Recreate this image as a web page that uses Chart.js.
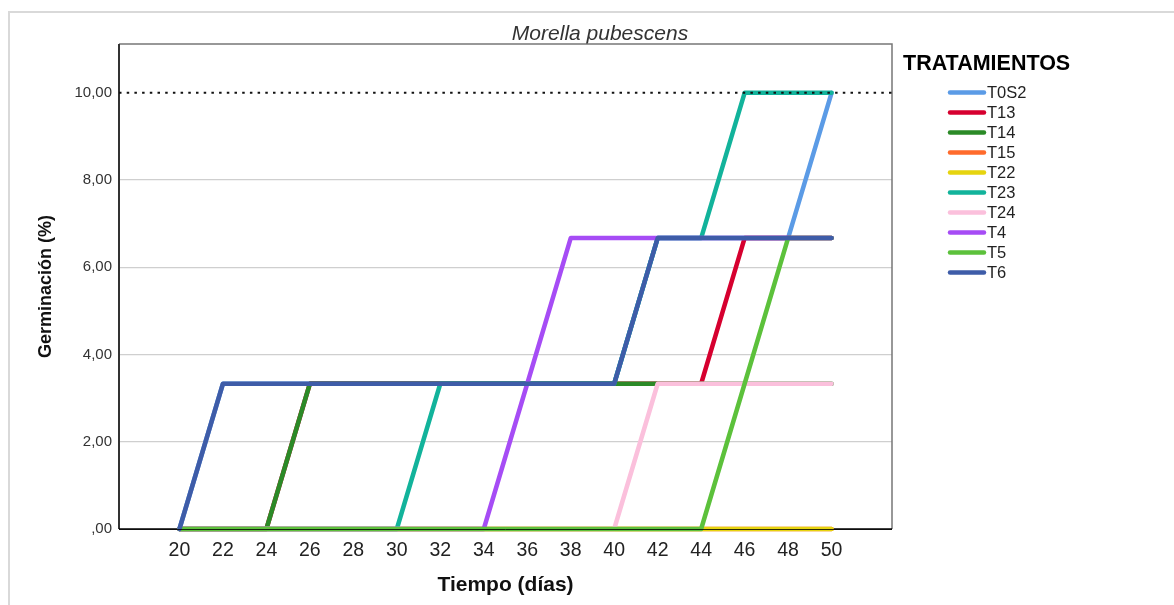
<!DOCTYPE html>
<html>
<head>
<meta charset="utf-8">
<script src="https://cdn.jsdelivr.net/npm/chart.js@4"></script>
<style>
  html, body { margin: 0; padding: 0; background: #fff; }
  #wrap { width: 1174px; height: 605px; }
</style>
</head>
<body>
<div id="wrap"><canvas id="grafico" width="1174" height="605"></canvas></div>
<script>
// datos (germinacion % por dia)
const dias = [20, 22, 24, 26, 28, 30, 32, 34, 36, 38, 40, 42, 44, 46, 48, 50];
const tratamientos = ['T0S2', 'T13', 'T14', 'T15', 'T22', 'T23', 'T24', 'T4', 'T5', 'T6'];
const colores = ['#5b9be6', '#d6002f', '#2b8a27', '#ff6b2c', '#e6d40f', '#12b39b', '#fbc0dc', '#a64cf5', '#5cc13b', '#3e5ca8'];

const T0S2 = [0, 3.33, 3.33, 3.33, 3.33, 3.33, 3.33, 3.33, 3.33, 3.33, 3.33, 6.67, 6.67, 6.67, 6.67, 10];
const T13  = [0, 0, 0, 3.33, 3.33, 3.33, 3.33, 3.33, 3.33, 3.33, 3.33, 3.33, 3.33, 6.67, 6.67, 6.67];
const T14  = [0, 0, 0, 3.33, 3.33, 3.33, 3.33, 3.33, 3.33, 3.33, 3.33, 3.33, 3.33, 3.33, 3.33, 3.33];
const T15  = [0, 0, 0, 0, 0, 0, 0, 0, 0, 0, 0, 0, 0, 0, 0, 0];
const T22  = [0, 0, 0, 0, 0, 0, 0, 0, 0, 0, 0, 0, 0, 0, 0, 0];
const T23  = [0, 0, 0, 0, 0, 0, 3.33, 3.33, 3.33, 3.33, 3.33, 6.67, 6.67, 10, 10, 10];
const T24  = [0, 0, 0, 0, 0, 0, 0, 0, 0, 0, 0, 3.33, 3.33, 3.33, 3.33, 3.33];
const T4   = [0, 0, 0, 0, 0, 0, 0, 0, 3.33, 6.67, 6.67, 6.67, 6.67, 6.67, 6.67, 6.67];
const T5   = [0, 0, 0, 0, 0, 0, 0, 0, 0, 0, 0, 0, 0, 3.33, 6.67, 6.67];
const T6   = [0, 3.33, 3.33, 3.33, 3.33, 3.33, 3.33, 3.33, 3.33, 3.33, 3.33, 6.67, 6.67, 6.67, 6.67, 6.67];
const series = [T0S2, T13, T14, T15, T22, T23, T24, T4, T5, T6];

const ticksX = [20, 22, 24, 26, 28, 30, 32, 34, 36, 38, 40, 42, 44, 46, 48, 50];
const ticksY = [0, 2, 4, 6, 8, 10];
const etiquetasY = [',00', '2,00', '4,00', '6,00', '8,00', '10,00'];
const lineaRef = 10;

const fuente = "'Liberation Sans', Arial, sans-serif";

let datasets = tratamientos.map((nombre, i) => ({
    label: nombre,
    data: dias.map((d, k) => ({ x: d, y: series[i][k] })),
    borderColor: colores[i],
    backgroundColor: colores[i],
    borderWidth: 4.5,
    pointRadius: 0,
    tension: 0,
    fill: false,
    clip: 5,
    borderCapStyle: 'round',
    borderJoinStyle: 'round',
    order: tratamientos.length - 1 - i
}));

const marcoYLeyenda = {
    id: 'marcoYLeyenda',
    beforeDraw(chart) {
        const c = chart.ctx;
        c.save();
        // marco exterior gris
        c.strokeStyle = '#d9d9d9';
        c.lineWidth = 2;
        c.beginPath();
        c.moveTo(9, 605);
        c.lineTo(9, 12);
        c.lineTo(1174, 12);
        c.stroke();
        // titulo
        c.fillStyle = '#333';
        c.font = 'italic 21px ' + fuente;
        c.textAlign = 'center';
        c.textBaseline = 'alphabetic';
        c.fillText('Morella pubescens', 600, 40);
        c.restore();
    },
    beforeDatasetsDraw(chart) {
        const c = chart.ctx;
        const a = chart.chartArea;
        c.save();
        // marco del area
        c.lineWidth = 1.5;
        c.strokeStyle = '#777';
        c.beginPath();
        c.moveTo(a.left, a.top);
        c.lineTo(a.right, a.top);
        c.lineTo(a.right, a.bottom);
        c.stroke();
        c.strokeStyle = '#333';
        c.lineWidth = 2;
        c.beginPath();
        c.moveTo(a.left, a.top);
        c.lineTo(a.left, a.bottom);
        c.stroke();
        c.strokeStyle = '#000';
        c.lineWidth = 1.5;
        c.beginPath();
        c.moveTo(a.left, a.bottom);
        c.lineTo(a.right, a.bottom);
        c.stroke();
        c.restore();
    },
    afterDatasetsDraw(chart) {
        const c = chart.ctx;
        const a = chart.chartArea;
        const y10 = chart.scales.y.getPixelForValue(lineaRef);
        c.save();
        c.strokeStyle = '#111';
        c.lineWidth = 2;
        c.setLineDash([2.5, 5.2]);
        c.beginPath();
        c.moveTo(a.left, y10);
        c.lineTo(a.right, y10);
        c.stroke();
        c.setLineDash([]);
        // linea fina del eje sobre las series en cero
        c.strokeStyle = 'rgba(0,0,0,0.8)';
        c.lineWidth = 1;
        c.beginPath();
        c.moveTo(a.left, a.bottom + 0.5);
        c.lineTo(a.right, a.bottom + 0.5);
        c.stroke();
        // leyenda
        c.fillStyle = '#000';
        c.font = 'bold 21.5px ' + fuente;
        c.textAlign = 'left';
        c.textBaseline = 'middle';
        c.fillText('TRATAMIENTOS', 903, 64);
        c.font = '16.5px ' + fuente;
        c.lineCap = 'round';
        c.lineWidth = 4.5;
        tratamientos.forEach((nombre, i) => {
            const y = 92.5 + i * 20;
            c.strokeStyle = colores[i];
            c.beginPath();
            c.moveTo(950, y);
            c.lineTo(984, y);
            c.stroke();
            c.fillStyle = '#222';
            c.fillText(nombre, 987, y + 1);
        });
        c.restore();
    }
};

let ctx = document.getElementById('grafico').getContext('2d');

let miGrafico = new Chart(ctx, {
    type: 'line',
    data: { datasets: datasets },
    options: {
        responsive: false,
        animation: false,
        layout: { padding: { left: 0, top: 44, right: 282, bottom: 0 } },
        plugins: {
            legend: { display: false },
            tooltip: { enabled: false }
        },
        scales: {
            x: {
                type: 'linear',
                min: 17.22,
                max: 52.78,
                afterBuildTicks: (s) => { s.ticks = ticksX.map(v => ({ value: v })); },
                afterFit: (s) => { s.height = 76; },
                grid: { display: false, drawTicks: false },
                border: { display: false },
                ticks: {
                    padding: 10,
                    color: '#222',
                    font: { family: fuente, size: 19.5 },
                    maxRotation: 0,
                    autoSkip: false
                },
                title: {
                    display: true,
                    text: 'Tiempo (días)',
                    color: '#111',
                    font: { family: fuente, size: 21, weight: 'bold' },
                    padding: { top: 4, bottom: 7 }
                }
            },
            y: {
                min: 0,
                max: 11.12,
                afterBuildTicks: (s) => { s.ticks = ticksY.map(v => ({ value: v })); },
                afterFit: (s) => { s.width = 119; },
                grid: {
                    drawTicks: false,
                    lineWidth: 1.3,
                    color: (c) => (c.tick && (c.tick.value === 0 || c.tick.value === lineaRef)) ? 'rgba(0,0,0,0)' : '#cfcfcf'
                },
                border: { display: false },
                ticks: {
                    padding: 7,
                    color: '#333',
                    font: { family: fuente, size: 15 },
                    callback: (v) => etiquetasY[ticksY.indexOf(v)]
                },
                title: {
                    display: true,
                    text: 'Germinación (%)',
                    color: '#111',
                    font: { family: fuente, size: 18, weight: 'bold' },
                    padding: { top: 35, bottom: 0 }
                }
            }
        }
    },
    plugins: [marcoYLeyenda]
});
</script>
</body>
</html>
